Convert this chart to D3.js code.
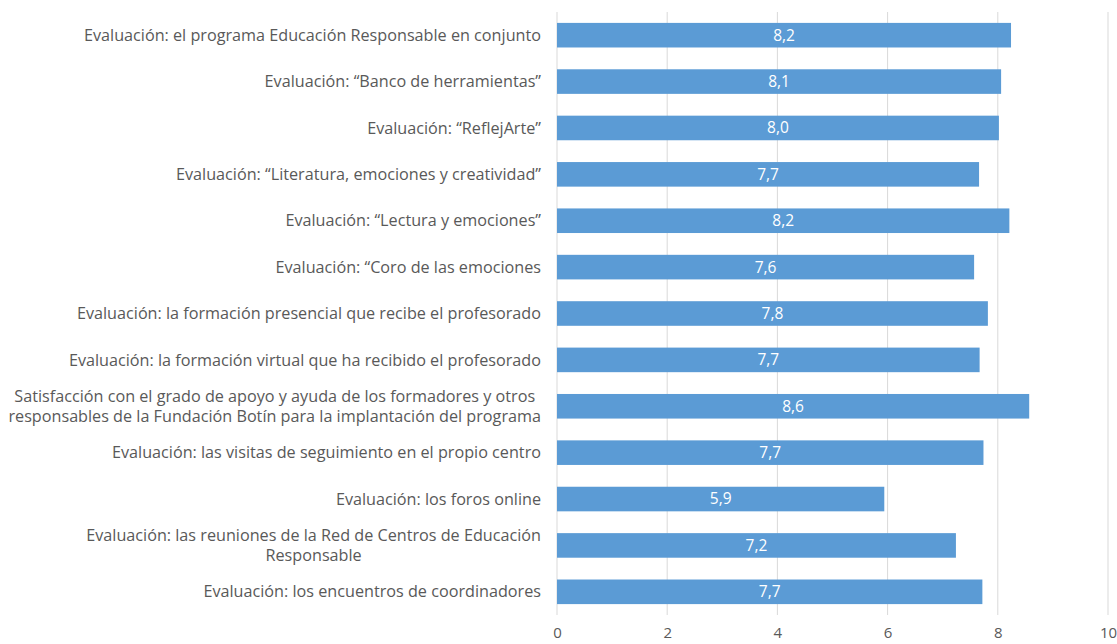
<!DOCTYPE html>
<html>
<head>
<meta charset="utf-8">
<script src="https://cdn.jsdelivr.net/npm/d3@7"></script>
<style>
  body { margin: 0; background: #fff; }
  svg text { font-family: "Open Sans", Lato, sans-serif; }
</style>
</head>
<body>
<div id="chart"></div>
<script>
// categories (top to bottom), "\n" marks the line break in the original
const categories = [
  "Evaluación: el programa Educación Responsable en conjunto",
  "Evaluación: “Banco de herramientas”",
  "Evaluación: “ReflejArte”",
  "Evaluación: “Literatura, emociones  y creatividad”",
  "Evaluación: “Lectura y emociones”",
  "Evaluación: “Coro de las emociones",
  "Evaluación: la formación presencial que recibe el profesorado",
  "Evaluación: la formación virtual que ha recibido el profesorado",
  "Satisfacción con el grado de apoyo y ayuda de los formadores y otros\nresponsables de la Fundación Botín para la implantación del programa",
  "Evaluación: las visitas de seguimiento en el propio centro",
  "Evaluación: los foros online",
  "Evaluación: las reuniones de la Red de Centros de Educación\nResponsable",
  "Evaluación: los encuentros de coordinadores"
];
const values = [8.24, 8.06, 8.02, 7.66, 8.21, 7.57, 7.82, 7.67, 8.57, 7.74, 5.94, 7.24, 7.72];
const xTicks = [0, 2, 4, 6, 8, 10];

const width = 1117, height = 644;
const plotLeft = 557, plotRight = 1108, plotTop = 12, plotBottom = 615;

const svg = d3.select('#chart').append('svg')
  .attr('width', width)
  .attr('height', height);

const x = d3.scaleLinear().domain([0, 10]).range([plotLeft, plotRight]);
const y = d3.scaleBand().domain(categories).range([plotTop, plotBottom]).paddingInner(0.47).paddingOuter(0.235);

// gridlines
svg.selectAll('line.grid')
  .data(xTicks)
  .enter().append('line')
  .attr('class', 'grid')
  .attr('x1', d => x(d)).attr('x2', d => x(d))
  .attr('y1', plotTop).attr('y2', plotBottom)
  .attr('stroke', '#d9d9d9')
  .attr('stroke-width', 1);

// x axis tick labels
const xAxis = d3.axisBottom(x).tickValues(xTicks).tickSize(0).tickPadding(0);
const gx = svg.append('g').attr('transform', `translate(0,${plotBottom + 12})`).call(xAxis);
gx.select('.domain').remove();
gx.selectAll('text')
  .attr('fill', '#595959')
  .style('font-size', '15px')
  .style('font-family', '"Open Sans", sans-serif');

// bars
svg.selectAll('rect.bar')
  .data(values)
  .enter().append('rect')
  .attr('class', 'bar')
  .attr('x', x(0))
  .attr('y', (d, i) => y(categories[i]))
  .attr('width', d => x(d) - x(0))
  .attr('height', y.bandwidth())
  .attr('fill', '#5b9bd5');

// value labels
svg.selectAll('text.val')
  .data(values)
  .enter().append('text')
  .attr('class', 'val')
  .attr('x', d => (x(0) + x(d)) / 2)
  .attr('y', (d, i) => y(categories[i]) + y.bandwidth() / 2)
  .attr('dy', '0.35em')
  .attr('text-anchor', 'middle')
  .attr('fill', '#ffffff')
  .style('font-size', '15.5px')
  .text(d => d.toFixed(1).replace('.', ','));

// category labels, right aligned block, lines centred within block
const labelRight = 541;
const lineH = 20;
categories.forEach(function(c) {
  const lines = c.split('\n');
  const cy = y(c) + y.bandwidth() / 2;
  const g = svg.append('g');
  const texts = lines.map(function(l, k) {
    return g.append('text')
      .attr('y', cy + (k - (lines.length - 1) / 2) * lineH)
      .attr('dy', '0.35em')
      .attr('fill', '#595959')
      .style('font-size', '16.2px')
      .text(l);
  });
  const maxW = d3.max(texts, t => t.node().getComputedTextLength());
  texts.forEach(t => t.attr('x', labelRight - maxW / 2).attr('text-anchor', 'middle'));
});
</script>
</body>
</html>
